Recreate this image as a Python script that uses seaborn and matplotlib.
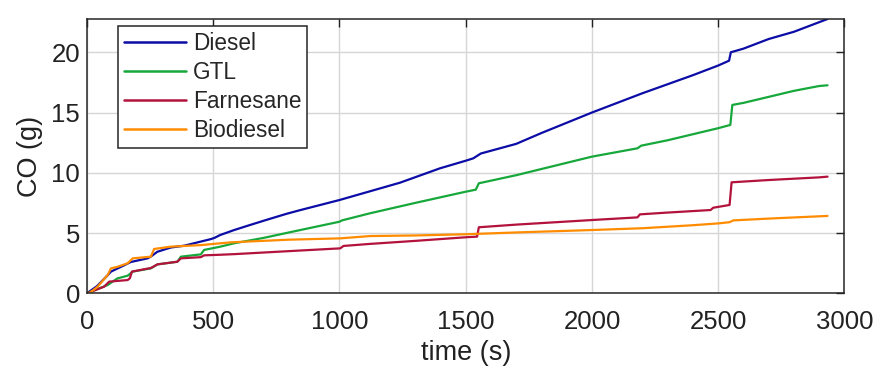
import numpy as np
import pandas as pd
import matplotlib
matplotlib.use("Agg")
import matplotlib.pyplot as plt
import seaborn as sns

# ---- data ----
diesel_t = [0, 40, 82, 95, 135, 174, 240, 253, 279, 332, 385, 491, 505, 528, 583, 646, 712,
            791, 844, 1000, 1240, 1398, 1500, 1530, 1560, 1700, 1800, 2000, 2200, 2400, 2500,
            2543, 2550, 2600, 2700, 2800, 2933]
diesel_v = [0, 0.6, 1.5, 1.8, 2.2, 2.6, 2.9, 3.05, 3.45, 3.8, 3.95, 4.5, 4.6, 4.84, 5.25, 5.67, 6.1,
            6.6, 6.9, 7.74, 9.18, 10.37, 11.0, 11.2, 11.6, 12.4, 13.3, 15.0, 16.6, 18.1, 18.9,
            19.3, 20.0, 20.3, 21.1, 21.7, 22.76]

gtl_t = [0, 82, 121, 161, 181, 253, 279, 358, 372, 451, 464, 528, 583, 700, 800, 1000, 1010,
         1121, 1300, 1500, 1540, 1552, 1700, 2000, 2180, 2195, 2300, 2500, 2548, 2556, 2600,
         2700, 2800, 2900, 2933]
gtl_v = [0, 0.69, 1.24, 1.46, 1.8, 2.07, 2.4, 2.62, 3.04, 3.23, 3.6, 3.87, 4.15, 4.6, 5.05, 5.94,
         6.05, 6.64, 7.5, 8.43, 8.6, 9.13, 9.8, 11.34, 12.03, 12.25, 12.7, 13.7, 13.97, 15.63,
         15.8, 16.3, 16.8, 17.2, 17.26]

farn_t = [0, 68, 88, 161, 170, 178, 253, 279, 358, 372, 451, 464, 528, 583, 800, 1003, 1016,
          1121, 1300, 1500, 1545, 1552, 1700, 2000, 2180, 2190, 2300, 2470, 2480, 2545, 2553,
          2700, 2900, 2933]
farn_v = [0, 0.55, 0.97, 1.1, 1.25, 1.8, 2.1, 2.4, 2.62, 2.9, 3.0, 3.15, 3.2, 3.25, 3.5, 3.73,
          3.93, 4.1, 4.35, 4.65, 4.7, 5.48, 5.7, 6.08, 6.3, 6.55, 6.7, 6.91, 7.1, 7.33, 9.21,
          9.4, 9.62, 9.68]

bio_t = [0, 9, 42, 82, 95, 121, 161, 181, 253, 266, 332, 451, 570, 800, 1003, 1121, 1300,
         1500, 1700, 2000, 2200, 2400, 2500, 2545, 2560, 2700, 2933]
bio_v = [0, 0, 0.55, 1.52, 2.07, 2.2, 2.49, 2.9, 3.04, 3.68, 3.87, 4.0, 4.23, 4.45, 4.56, 4.75,
         4.8, 4.9, 5.05, 5.25, 5.4, 5.65, 5.8, 5.9, 6.05, 6.2, 6.42]

fuels = ["Diesel", "GTL", "Farnesane", "Biodiesel"]
colors = ["#0c0ca6", "#17a83c", "#b3123c", "#ff8c00"]
x_ticks = [0, 500, 1000, 1500, 2000, 2500, 3000]
y_ticks = [0, 5, 10, 15, 20]

series = {"Diesel": (diesel_t, diesel_v), "GTL": (gtl_t, gtl_v),
          "Farnesane": (farn_t, farn_v), "Biodiesel": (bio_t, bio_v)}
frames = [pd.DataFrame({"time": t, "CO": v, "fuel": name}) for name, (t, v) in series.items()]
df = pd.concat(frames, ignore_index=True)

sns.set_style("white")
plt.rcParams["font.family"] = ["Liberation Sans", "DejaVu Sans"]

fig = plt.figure(figsize=(8.74, 3.71), dpi=100)
ax = fig.add_axes([0.0995, 0.2094, 0.8667, 0.7394])

sns.lineplot(data=df, x="time", y="CO", hue="fuel", hue_order=fuels,
             palette=dict(zip(fuels, colors)), estimator=None, errorbar=None,
             sort=False, linewidth=1.6, ax=ax)

ax.set_xlim(0, 3000)
ax.set_ylim(0, 22.76)
ax.set_xticks(x_ticks)
ax.set_yticks(y_ticks)
ax.grid(True, color="#d6d6d6", linewidth=1.0)
ax.set_axisbelow(True)
ax.tick_params(direction="in", length=6, width=1.0, top=True, right=True,
               labelsize=18.5, colors="#222222")
ax.tick_params(axis="x", pad=12)
ax.tick_params(axis="y", pad=5)
for s in ax.spines.values():
    s.set_color("#262626")
    s.set_linewidth(1.1)
ax.set_xlabel("time (s)", fontsize=19.5, color="#222222", labelpad=4)
ax.set_ylabel("CO (g)", fontsize=19.5, color="#222222", labelpad=6)

leg = ax.legend(loc="upper left", bbox_to_anchor=(0.041, 0.974), borderaxespad=0,
                fontsize=16.3, handlelength=2.75, handletextpad=0.3, labelspacing=0.27,
                borderpad=0.25, frameon=True, fancybox=False, framealpha=1)
leg.get_frame().set_edgecolor("#262626")
leg.get_frame().set_linewidth(1.1)
for line in leg.get_lines():
    line.set_linewidth(1.8)

fig.savefig("out.png", dpi=100, facecolor="white")
